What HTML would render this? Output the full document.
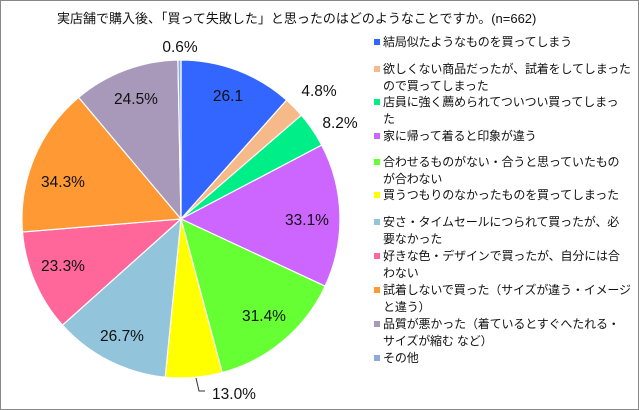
<!DOCTYPE html>
<html><head><meta charset="utf-8"><style>
html,body{margin:0;padding:0;background:#fff}
#c{position:relative;width:637px;height:408px;border:1px solid #888;overflow:hidden;font-family:"Liberation Sans","Noto Sans CJK JP",sans-serif;color:#111}
.t{position:absolute;left:56px;top:7px;font-size:13px;white-space:nowrap}
.lg{position:absolute;left:373px;font-size:12px;letter-spacing:-0.15px;white-space:nowrap;line-height:17px}
.lg i{display:inline-block;width:6px;height:6px;margin-right:3px;vertical-align:1px}
.in{padding-left:9px}
</style></head><body><div id="c">
<div class="t">実店舗で購入後、「買って失敗した」と思ったのはどのようなことですか。(n=662)</div>
<svg width="639" height="410" style="position:absolute;left:-1px;top:-1px" font-family="Liberation Sans, sans-serif" font-size="15.5" fill="#111">
<g stroke="#fff" stroke-width="1.2">
<path d="M181,219 L181,60 A159,159 0 0 1 286.6,100.1Z" fill="#3366ff"/>
<path d="M181,219 L286.6,100.1 A159,159 0 0 1 301.4,115.2Z" fill="#f5b98a"/>
<path d="M181,219 L301.4,115.2 A159,159 0 0 1 321.7,145.1Z" fill="#00ee88"/>
<path d="M181,219 L321.7,145.1 A159,159 0 0 1 325.1,286.2Z" fill="#cc66ff"/>
<path d="M181,219 L325.1,286.2 A159,159 0 0 1 222.2,372.6Z" fill="#66ff33"/>
<path d="M181,219 L222.2,372.6 A159,159 0 0 1 165.2,377.2Z" fill="#ffff00"/>
<path d="M181,219 L165.2,377.2 A159,159 0 0 1 62.5,325.1Z" fill="#92c5dc"/>
<path d="M181,219 L62.5,325.1 A159,159 0 0 1 22.5,232Z" fill="#ff6699"/>
<path d="M181,219 L22.5,232 A159,159 0 0 1 78.6,97.4Z" fill="#ff9933"/>
<path d="M181,219 L78.6,97.4 A159,159 0 0 1 177.9,60Z" fill="#a899bb"/>
<path d="M181,219 L177.9,60 A159,159 0 0 1 181,60Z" fill="#8eaadb"/>
</g>
<path d="M196,378 L199,391 L205,391" stroke="#333" fill="none"/>
<g text-anchor="middle">
<text x="228" y="101">26.1</text>
<text x="319" y="96">4.8%</text>
<text x="340" y="128">8.2%</text>
<text x="307" y="225">33.1%</text>
<text x="264" y="321">31.4%</text>
<text x="234" y="399">13.0%</text>
<text x="122" y="341">26.7%</text>
<text x="63" y="271">23.3%</text>
<text x="63" y="187">34.3%</text>
<text x="136" y="104">24.5%</text>
<text x="180" y="52">0.6%</text>
</g>
</svg>
<div class="lg" style="top:33px"><i style="background:#3366ff"></i>結局似たようなものを買ってしまう</div>
<div class="lg" style="top:60px"><i style="background:#f5b98a"></i>欲しくない商品だったが、試着をしてしまった<br><span class="in">ので買ってしまった</span></div>
<div class="lg" style="top:93px"><i style="background:#00ee88"></i>店員に強く薦められてついつい買ってしまっ<br><span class="in">た</span></div>
<div class="lg" style="top:127px"><i style="background:#cc66ff"></i>家に帰って着ると印象が違う</div>
<div class="lg" style="top:153px"><i style="background:#66ff33"></i>合わせるものがない・合うと思っていたもの<br><span class="in">が合わない</span></div>
<div class="lg" style="top:186px"><i style="background:#ffff00"></i>買うつもりのなかったものを買ってしまった</div>
<div class="lg" style="top:213px"><i style="background:#92c5dc"></i>安さ・タイムセールにつられて買ったが、必<br><span class="in">要なかった</span></div>
<div class="lg" style="top:247px"><i style="background:#ff6699"></i>好きな色・デザインで買ったが、自分には合<br><span class="in">わない</span></div>
<div class="lg" style="top:281px"><i style="background:#ff9933"></i>試着しないで買った（サイズが違う・イメージ<br><span class="in">と違う）</span></div>
<div class="lg" style="top:315px"><i style="background:#a899bb"></i>品質が悪かった（着ているとすぐへたれる・<br><span class="in">サイズが縮む など）</span></div>
<div class="lg" style="top:349px"><i style="background:#8eaadb"></i>その他</div>
</div></body></html>
